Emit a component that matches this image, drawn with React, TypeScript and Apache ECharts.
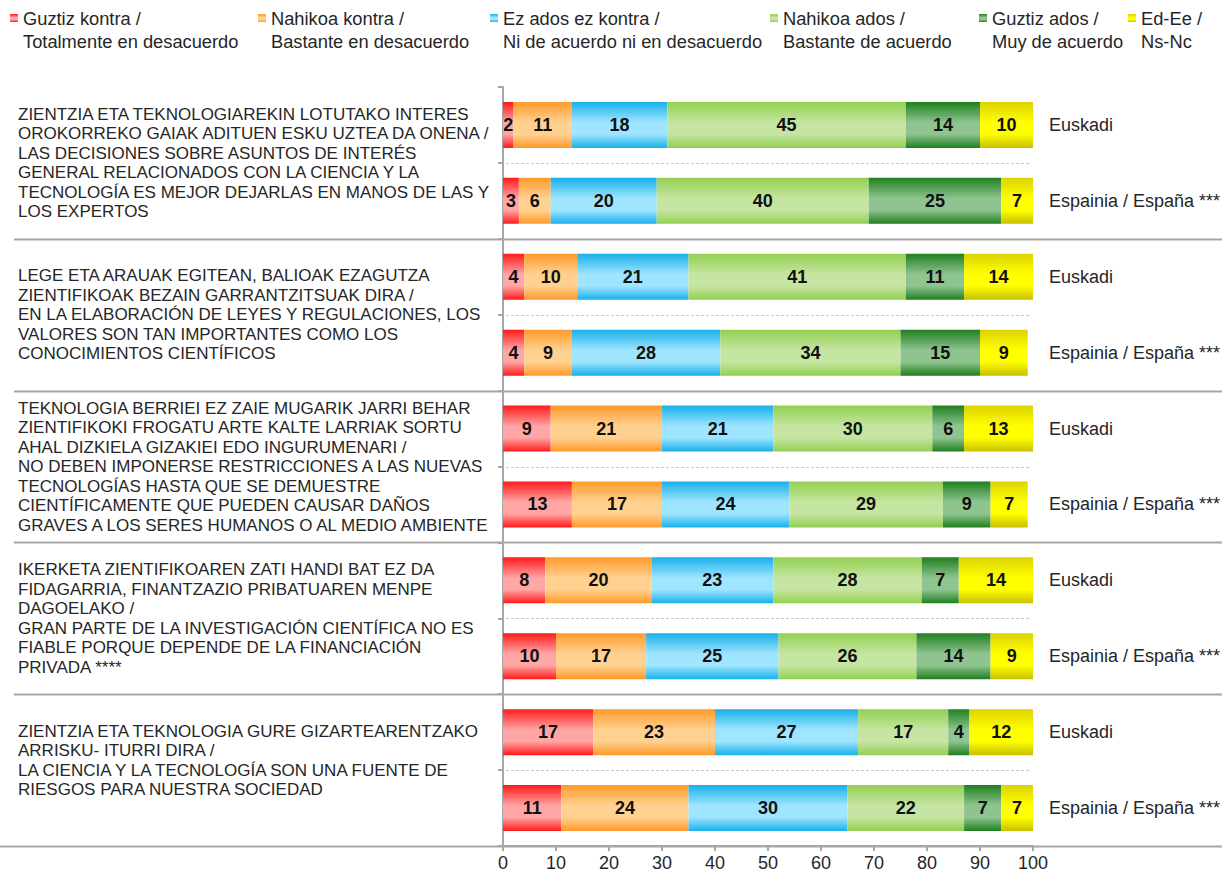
import React, { useEffect, useRef } from "react";
import * as echarts from "echarts";

const regions = ["Euskadi", "Espainia / España ***"];

const statements = [
  "ZIENTZIA ETA TEKNOLOGIAREKIN LOTUTAKO INTERES\nOROKORREKO GAIAK ADITUEN ESKU UZTEA DA ONENA /\nLAS DECISIONES SOBRE ASUNTOS DE INTERÉS\nGENERAL RELACIONADOS CON LA CIENCIA Y LA\nTECNOLOGÍA ES MEJOR DEJARLAS EN MANOS DE LAS Y\nLOS EXPERTOS",
  "LEGE ETA ARAUAK EGITEAN, BALIOAK EZAGUTZA\nZIENTIFIKOAK BEZAIN GARRANTZITSUAK DIRA /\nEN LA ELABORACIÓN DE LEYES Y REGULACIONES, LOS\nVALORES SON TAN IMPORTANTES COMO LOS\nCONOCIMIENTOS CIENTÍFICOS",
  "TEKNOLOGIA BERRIEI EZ ZAIE MUGARIK JARRI BEHAR\nZIENTIFIKOKI FROGATU ARTE KALTE LARRIAK SORTU\nAHAL DIZKIELA GIZAKIEI EDO INGURUMENARI /\nNO DEBEN IMPONERSE RESTRICCIONES A LAS NUEVAS\nTECNOLOGÍAS HASTA QUE SE DEMUESTRE\nCIENTÍFICAMENTE QUE PUEDEN CAUSAR DAÑOS\nGRAVES A LOS SERES HUMANOS O AL MEDIO AMBIENTE",
  "IKERKETA ZIENTIFIKOAREN ZATI HANDI BAT EZ DA\nFIDAGARRIA, FINANTZAZIO PRIBATUAREN MENPE\nDAGOELAKO /\nGRAN PARTE DE LA INVESTIGACIÓN CIENTÍFICA NO ES\nFIABLE PORQUE DEPENDE DE LA FINANCIACIÓN\nPRIVADA ****",
  "ZIENTZIA ETA TEKNOLOGIA GURE GIZARTEARENTZAKO\nARRISKU- ITURRI DIRA /\nLA CIENCIA Y LA TECNOLOGÍA SON UNA FUENTE DE\nRIESGOS PARA NUESTRA SOCIEDAD",
];

const answerNames = [
  "Guztiz kontra /\nTotalmente en desacuerdo",
  "Nahikoa kontra /\nBastante en desacuerdo",
  "Ez ados ez kontra /\nNi de acuerdo ni en desacuerdo",
  "Nahikoa ados /\nBastante de acuerdo",
  "Guztiz ados /\nMuy de acuerdo",
  "Ed-Ee /\nNs-Nc",
];

// rows: statement 1 Euskadi, statement 1 España, statement 2 Euskadi, ...
const totalDisagree = [2, 3, 4, 4, 9, 13, 8, 10, 17, 11];
const fairlyDisagree = [11, 6, 10, 9, 21, 17, 20, 17, 23, 24];
const neither = [18, 20, 21, 28, 21, 24, 23, 25, 27, 30];
const fairlyAgree = [45, 40, 41, 34, 30, 29, 28, 26, 17, 22];
const totallyAgree = [14, 25, 11, 15, 6, 9, 7, 14, 4, 7];
const dontKnow = [10, 7, 14, 9, 13, 7, 14, 9, 12, 7];

const xMin = 0;
const xMax = 100;
const xInterval = 10;

const seriesValues = [totalDisagree, fairlyDisagree, neither, fairlyAgree, totallyAgree, dontKnow];

const FONT = "'Liberation Sans', Arial, sans-serif";

const palette: [string, string, string][] = [
  ["#ff1a1a", "#ffa6a6", "#ff1a1a"],
  ["#ff9a2a", "#ffd190", "#ff9a2a"],
  ["#18b0ea", "#9fe5ff", "#18b0ea"],
  ["#92d050", "#c6e5a2", "#92d050"],
  ["#1f7f1f", "#8fc490", "#1f7f1f"],
  ["#dcd300", "#ffff00", "#c8bf00"],
];

function grad(c: [string, string, string]) {
  return new echarts.graphic.LinearGradient(0, 0, 0, 1, [
    { offset: 0, color: c[0] },
    { offset: 0.45, color: c[1] },
    { offset: 0.7, color: c[1] },
    { offset: 1, color: c[2] },
  ]);
}

export default function App() {
  const ref = useRef<HTMLDivElement>(null);

  useEffect(() => {
    const el = ref.current;
    if (!el) return;
    const chart = echarts.init(el, null, { renderer: "svg" });

    const rowKeys = statements.flatMap((_, g) => regions.map((r) => `${g}|${r}`));
    const legendLeft = [10, 258, 490, 770, 979, 1128];

    chart.setOption({
      animation: false,
      backgroundColor: "#ffffff",
      textStyle: { fontFamily: FONT },
      grid: { left: 503, right: 189, top: 87, bottom: 30, outerBoundsMode: "none", containLabel: false },
      legend: answerNames.map((n, i) => ({
        data: [n],
        left: legendLeft[i],
        top: -16.5,
        padding: 0,
        itemWidth: 8,
        itemHeight: 8,
        itemGap: 0,
        icon: "rect",
        selectedMode: false,
        formatter: (name: string) => "\n" + name,
        textStyle: {
          fontFamily: FONT,
          fontSize: 18.3,
          lineHeight: 23,
          color: "#262626",
        },
      })),
      xAxis: {
        type: "value",
        min: xMin,
        max: xMax,
        interval: xInterval,
        axisLine: { show: true, lineStyle: { color: "#a6a6a6", width: 2 } },
        axisTick: { show: true, length: 5, lineStyle: { color: "#a6a6a6", width: 2 } },
        axisLabel: { fontSize: 18, color: "#262626", margin: 8, fontFamily: FONT },
        splitLine: { show: false },
      },
      yAxis: [
        {
          type: "category",
          data: rowKeys,
          inverse: true,
          position: "left",
          axisLine: { show: true, lineStyle: { color: "#a6a6a6", width: 2 } },
          axisTick: { show: true, length: 5, lineStyle: { color: "#a6a6a6", width: 2 } },
          axisLabel: { show: false },
          splitLine: { show: false },
        },
        {
          type: "category",
          data: rowKeys,
          inverse: true,
          position: "right",
          axisLine: { show: false },
          axisTick: { show: false },
          axisLabel: {
            interval: 0,
            margin: 16,
            fontSize: 18,
            color: "#262626",
            fontFamily: FONT,
            formatter: (v: string) => v.split("|")[1],
          },
          splitLine: { show: false },
        },
        {
          type: "category",
          data: statements,
          inverse: true,
          position: "left",
          axisLine: { show: false },
          axisTick: { show: false },
          axisLabel: {
            interval: 0,
            align: "left",
            margin: 485,
            fontSize: 17,
            lineHeight: 19.5,
            color: "#262626",
            fontFamily: FONT,
            // the last statement sits a little above its band centre in the reference
            formatter: (v: string, idx: number) => (idx === statements.length - 1 ? v + "\n " : v),
          },
          splitLine: { show: false },
        },
      ],
      series: answerNames.map((name, i) => ({
        name,
        type: "bar",
        stack: "total",
        yAxisIndex: 0,
        barWidth: 46,
        data: seriesValues[i],
        itemStyle: { color: grad(palette[i]) },
        label: {
          show: true,
          position: "inside",
          fontSize: 18,
          fontWeight: "bold",
          color: "#111111",
          fontFamily: FONT,
        },
      })),
    });

    // separator lines computed from the axes
    const centers = rowKeys.map((_, i) => chart.convertToPixel({ yAxisIndex: 0 }, i) as number);
    const band = centers[1] - centers[0];
    const x0 = chart.convertToPixel({ xAxisIndex: 0 }, xMin) as number;
    const x1 = chart.convertToPixel({ xAxisIndex: 0 }, xMax) as number;
    const graphics: any[] = [];
    centers.forEach((c, i) => {
      const y = Math.round(c + band / 2) + 0.5;
      if (i % 2 === 1) {
        graphics.push({
          type: "line",
          z: 0,
          shape: { x1: i === centers.length - 1 ? 0 : 14, y1: y, x2: 1222, y2: y },
          style: { stroke: "#a6a6a6", lineWidth: 2 },
        });
      } else {
        graphics.push({
          type: "line",
          z: 0,
          shape: { x1: x0 + 3, y1: y, x2: x1 - 3, y2: y },
          style: { stroke: "#c8c8c8", lineWidth: 1, lineDash: [3, 2] },
        });
      }
    });
    chart.setOption({ graphic: graphics });

    return () => chart.dispose();
  }, []);

  return (
    <div
      ref={ref}
      style={{ position: "fixed", left: 0, top: 0, width: 1222, height: 876, background: "#ffffff" }}
    />
  );
}
